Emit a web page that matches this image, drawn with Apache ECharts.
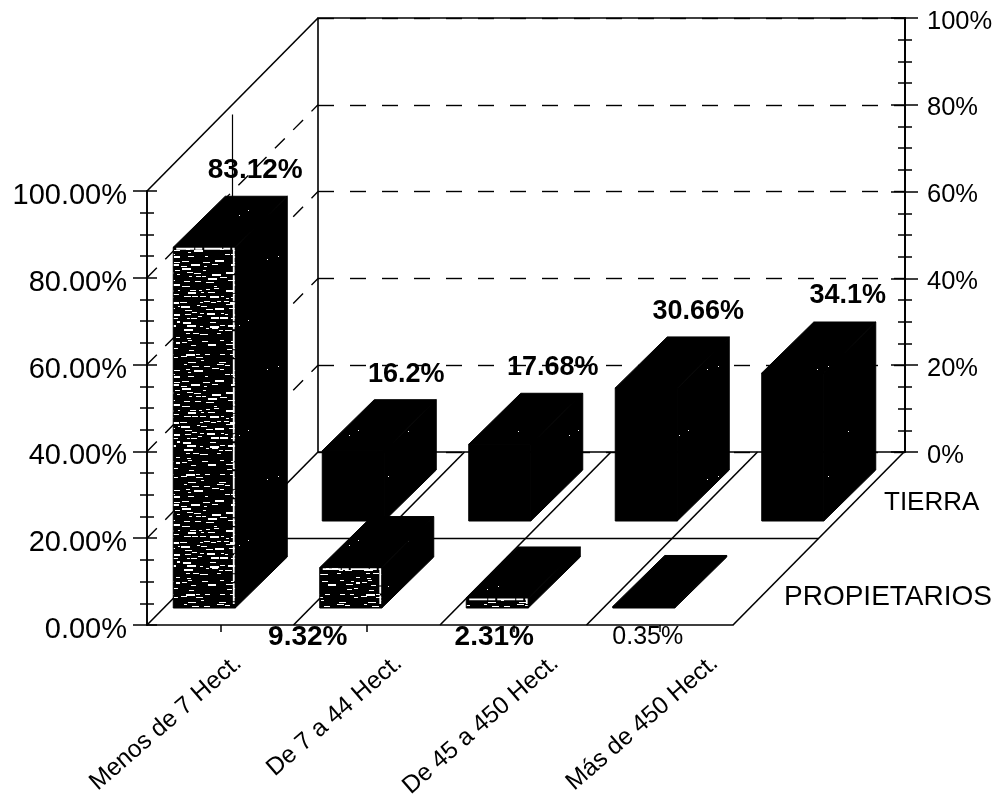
<!DOCTYPE html>
<html><head><meta charset="utf-8">
<style>html,body{margin:0;padding:0;background:#fff}#c{width:1002px;height:798px}</style>
<script src="https://cdn.jsdelivr.net/npm/echarts@6/dist/echarts.min.js"></script>
</head><body><div id="c"></div>
<script>
const categories = ['Menos de 7 Hect.', 'De 7 a 44 Hect.', 'De 45 a 450 Hect.', 'Más de 450 Hect.'];
const propietarios = [83.12, 9.32, 2.31, 0.35];
const tierra = [16.2, 17.68, 30.66, 34.1];
const rowNames = ['TIERRA', 'PROPIETARIOS'];
const leftTicks = [0, 20, 40, 60, 80, 100];

// layout
const FONT = '"Liberation Sans", Arial, sans-serif';
const WALL = [171, -173];      // depth of the whole floor
const BOX = [52, -51];         // depth of one bar
const BAR_W = 62;
const FRONT = {dx: -47, dy: -17, tex: true};
const BACK = {dx: 102, dy: -104, tex: false};
const frontLabels = [
  {dx: 82, dy: -26, size: 28, weight: 'bold'},
  {dx: -12, dy: 29, size: 28, weight: 'bold'},
  {dx: 28, dy: 29, size: 28, weight: 'bold'},
  {dx: 35, dy: 29, size: 25, weight: 'normal'}
];
const backLabels = [
  {dx: 84, dy: -25, size: 27, weight: 'bold'},
  {dx: 84, dy: -26, size: 27, weight: 'bold'},
  {dx: 83, dy: -25, size: 27, weight: 'bold'},
  {dx: 86, dy: -26, size: 27, weight: 'bold'}
];
const catLabelDx = [18, 32, 42, 55];
const CAT_LABEL_Y = 35;
const CAT_LABEL_ANGLE = 41;

// deterministic hash used only for print texture, never for data
function hash(a, b) { return Math.abs(Math.sin(a * 12.9898 + b * 78.233) * 43758.5453) % 1; }

function makeTexture() {
  const c = document.createElement('canvas');
  c.width = 60; c.height = 120;
  const g = c.getContext('2d');
  g.fillStyle = '#000'; g.fillRect(0, 0, 60, 120);
  g.fillStyle = '#fff';
  for (let y = 1; y < 120; y += 4) {
    const off = hash(y, 3) * 6;
    for (let x = off; x < 60;) {
      const h = hash(x + 1, y);
      const len = 1 + Math.floor(h * h * 9);
      if (h > 0.5) g.fillRect(Math.round(x), y + Math.floor(hash(x, y + 5) * 3) - 1, len, h > 0.9 ? 2 : 1);
      x += len + 1 + Math.floor(hash(y, x) * 5);
    }
  }
  return c;
}
function makeSpecks() {
  const c = document.createElement('canvas');
  c.width = 110; c.height = 110;
  const g = c.getContext('2d');
  g.fillStyle = '#000'; g.fillRect(0, 0, 110, 110);
  g.fillStyle = '#fff';
  for (let k = 0; k < 5; k++) {
    g.fillRect(Math.floor(hash(k, 1) * 108), Math.floor(hash(k, 2) * 108), 1, 1);
  }
  return c;
}
const texture = makeTexture();
const specks = makeSpecks();
const dark = () => ({fill: {image: specks, repeat: 'repeat'}, stroke: '#000', lineWidth: 1});

function barRender(row, labelFor) {
  return function (params, api) {
    const i = api.value(0), v = api.value(1);
    const base = api.coord([i, 0]), top = api.coord([i, v]);
    const x0 = base[0] + row.dx, y0 = base[1] + row.dy, yt = top[1] + row.dy, x1 = x0 + BAR_W;
    const tall = y0 - yt > 4;
    const kids = [
      {type: 'polygon', shape: {points: [[x0, yt], [x1, yt], [x1 + BOX[0], yt + BOX[1]], [x0 + BOX[0], yt + BOX[1]]]}, style: dark()},
      {type: 'polygon', shape: {points: [[x1, yt], [x1 + BOX[0], yt + BOX[1]], [x1 + BOX[0], y0 + BOX[1]], [x1, y0]]}, style: dark()},
      {type: 'rect', shape: {x: x0, y: yt, width: BAR_W, height: y0 - yt},
        style: row.tex && tall ? {fill: {image: texture, repeat: 'repeat'}, stroke: '#000', lineWidth: 1} : {fill: '#000', stroke: '#000', lineWidth: 1}}
    ];
    if (row.tex && tall) {
      kids.push({type: 'polyline', shape: {points: [[x0 + 3, yt + 1.5], [x1 - 1.5, yt + 1.5], [x1 - 1.5, y0 - 4]]},
        style: {fill: null, stroke: '#fff', lineWidth: 1.8, lineDash: [18, 1, 7, 2]}});
    }
    const l = labelFor(i, x0, yt, y0);
    kids.push({type: 'text', z2: 50, style: {text: v + '%', x: l.x, y: l.y, fill: '#000',
      font: l.weight + ' ' + l.size + 'px ' + FONT, align: 'center', verticalAlign: 'middle'}});
    return {type: 'group', children: kids};
  };
}

function frameRender(params, api) {
  const n = categories.length;
  const band = api.size([1, 0])[0];
  const p0 = api.coord([0, 0]);
  const left = p0[0] - band / 2, bot = p0[1];
  const line = (a, b, extra) => ({type: 'line', shape: {x1: a[0], y1: a[1], x2: b[0], y2: b[1]},
    style: Object.assign({stroke: '#000', lineWidth: 1.6}, extra || {})});
  const kids = [];
  for (let k = 1; k <= n; k++) {
    const x = left + band * k;
    kids.push(line([x, bot], [x + WALL[0], bot + WALL[1]]));
  }
  kids.push(line([left, bot], [left + WALL[0], bot + WALL[1]]));
  kids.push(line([left + WALL[0] / 2, bot + WALL[1] / 2], [left + band * n + WALL[0] / 2, bot + WALL[1] / 2]));
  leftTicks.forEach(t => {
    const y = api.coord([0, t])[1];
    if (t === 0) return;
    kids.push(line([left, y], [left + WALL[0], y + WALL[1]],
      t === 100 ? {} : {lineDash: [14, 12], lineWidth: 1.4}));
  });
  const top = api.coord([0, 100])[1];
  kids.push(line([left + WALL[0] / 2, top + WALL[1] / 2 + 10], [left + WALL[0] / 2, bot + WALL[1] / 2], {lineWidth: 1.2}));
  categories.forEach((name, i) => {
    const c = api.coord([i, 0]);
    kids.push({type: 'text', x: c[0] + catLabelDx[i], y: c[1] + CAT_LABEL_Y, rotation: CAT_LABEL_ANGLE * Math.PI / 180,
      style: {text: name, x: 0, y: 0, fill: '#000', font: '24.5px ' + FONT, align: 'right', verticalAlign: 'middle'}});
  });
  return {type: 'group', children: kids};
}

const yBase = {min: 0, max: 100, interval: 20, axisLine: {show: true, lineStyle: {color: '#000', width: 1.6}},
  minorTick: {show: true, splitNumber: 4, length: 7, lineStyle: {color: '#000', width: 1.5}},
  splitLine: {show: false}};
const tickStyle = {show: true, lineStyle: {color: '#000', width: 1.5}};

const chart = echarts.init(document.getElementById('c'), null, {renderer: 'canvas', width: 1002, height: 798});
chart.setOption({
  animation: false,
  backgroundColor: '#fff',
  grid: [
    {left: 147, top: 191, width: 586, height: 434},
    {left: 318, top: 18, width: 587, height: 434, show: true, borderColor: '#000', borderWidth: 1.6, backgroundColor: 'transparent'}
  ],
  xAxis: [
    {type: 'category', gridIndex: 0, data: categories, position: 'bottom',
      axisLine: {show: true, lineStyle: {color: '#000', width: 1.6}},
      axisTick: {show: true, alignWithLabel: true, length: 7, lineStyle: {color: '#000', width: 1.5}},
      axisLabel: {show: false}},
    {type: 'category', gridIndex: 1, data: categories, show: false}
  ],
  yAxis: [
    Object.assign({}, yBase, {type: 'value', gridIndex: 0, position: 'left',
      axisTick: Object.assign({length: 14}, tickStyle),
      axisLabel: {margin: 20, verticalAlign: 'top', lineHeight: 10, color: '#000', fontFamily: FONT, fontSize: 29, formatter: v => v.toFixed(2) + '%'}}),
    Object.assign({}, yBase, {type: 'value', gridIndex: 0, position: 'left',
      axisTick: Object.assign({length: 10, inside: true}, tickStyle),
      axisLabel: {show: false}}),
    Object.assign({}, yBase, {type: 'value', gridIndex: 1, position: 'right',
      axisTick: Object.assign({length: 13}, tickStyle),
      axisLabel: {margin: 22, verticalAlign: 'top', lineHeight: 7, color: '#000', fontFamily: FONT, fontSize: 25.5, formatter: v => v + '%'}}),
    Object.assign({}, yBase, {type: 'value', gridIndex: 1, position: 'right',
      axisTick: Object.assign({length: 14, inside: true}, tickStyle),
      axisLabel: {show: false},
      splitLine: {show: true, lineStyle: {color: '#000', width: 1.4, type: [16, 16]}}})
  ],
  series: [
    {type: 'custom', name: 'frame', xAxisIndex: 0, yAxisIndex: 0, z: 1, silent: true,
      data: [[0, 0]], renderItem: frameRender},
    {type: 'custom', name: rowNames[0], xAxisIndex: 0, yAxisIndex: 0, z: 3, silent: true,
      data: tierra.map((v, i) => [i, v]),
      renderItem: barRender(BACK, (i, x0, yt) => {
        const f = backLabels[i];
        return {x: x0 + f.dx, y: yt + BOX[1] + f.dy, size: f.size, weight: f.weight};
      })},
    {type: 'custom', name: rowNames[1], xAxisIndex: 0, yAxisIndex: 0, z: 4, silent: true,
      data: propietarios.map((v, i) => [i, v]),
      renderItem: barRender(FRONT, (i, x0, yt, y0) => {
        const f = frontLabels[i];
        return i === 0 ? {x: x0 + f.dx, y: yt + BOX[1] + f.dy, size: f.size, weight: f.weight}
                       : {x: x0 + f.dx, y: y0 + f.dy, size: f.size, weight: f.weight};
      })}
  ],
  graphic: [
    {type: 'text', left: 884, top: 490, style: {text: rowNames[0], fill: '#000', font: '26px ' + FONT}},
    {type: 'text', left: 784, top: 583, style: {text: rowNames[1], fill: '#000', font: '28px ' + FONT}}
  ]
});
</script></body></html>
